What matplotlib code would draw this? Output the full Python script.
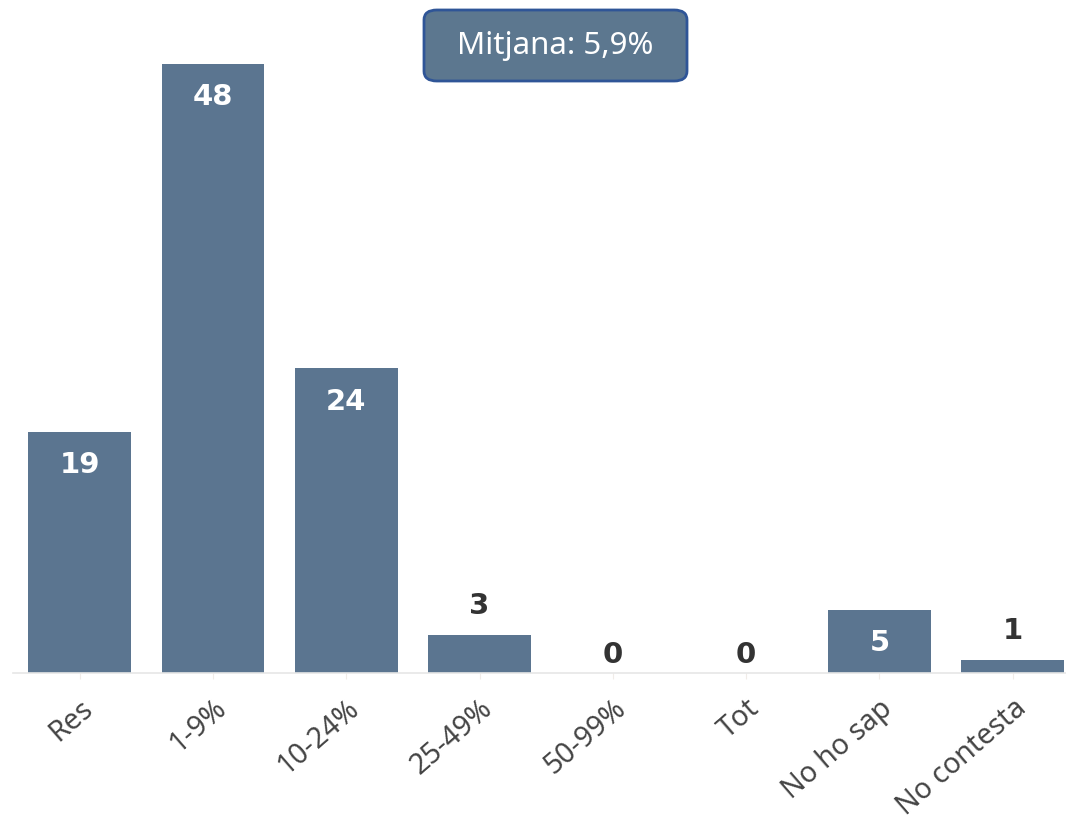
import matplotlib.pyplot as plt
from matplotlib.patches import FancyBboxPatch

# dades de l'enquesta
categories = ['Res', '1-9%', '10-24%', '25-49%', '50-99%', 'Tot',
              'No ho sap', 'No contesta']
valors = [19, 48, 24, 3, 0, 0, 5, 1]
mitjana = 'Mitjana: 5,9%'

color_barra = '#5b7590'
color_text = '#333333'

fig = plt.figure(figsize=(10.66, 8.22), dpi=100)
ax = fig.add_axes([13/1066, 0.1813, 1 - 13/1066, 0.8187])

x = range(len(categories))
barres = ax.bar(x, valors, width=0.77, color=color_barra)

ax.set_xlim(-0.5, 7.4)
ax.set_ylim(0, 53.04)

# etiquetes de valor: dins la barra si hi cap, si no a sobre
for xi, v in zip(x, valors):
    if v >= 5:
        ax.annotate(str(v), (xi, v), xytext=(0, -24), textcoords='offset points',
                    ha='center', va='center', color='white',
                    fontsize=21, fontweight='bold', family='DejaVu Sans')
    else:
        dy = 11 if v > 0 else 3
        ax.annotate(str(v), (xi, v), xytext=(0, dy), textcoords='offset points',
                    ha='center', va='bottom', color=color_text,
                    fontsize=21, fontweight='bold', family='DejaVu Sans')

ax.set_xticks(list(x))
ax.set_xticklabels(categories, rotation=41, ha='right', rotation_mode='anchor',
                   fontsize=20.5, color='#444444', family='Noto Sans')
ax.tick_params(axis='x', length=4, color='#f0ece8', pad=11)
ax.set_yticks([])
for s in ['top', 'right', 'left']:
    ax.spines[s].set_visible(False)
ax.spines['bottom'].set_color('#e6e6e6')
ax.spines['bottom'].set_linewidth(1.2)

# requadre amb la mitjana
caixa = FancyBboxPatch((424/1066, 1 - 81/822), 263/1066, 71/822,
                       boxstyle='round,pad=0,rounding_size=0.012',
                       transform=fig.transFigure, facecolor='#5c778f',
                       edgecolor='#2f5597', linewidth=2)
fig.patches.append(caixa)
fig.text(555.5/1066, 1 - 46/822, mitjana, ha='center', va='center',
         color='white', fontsize=22.5, family='Noto Sans')

fig.savefig('out.png', dpi=100)
